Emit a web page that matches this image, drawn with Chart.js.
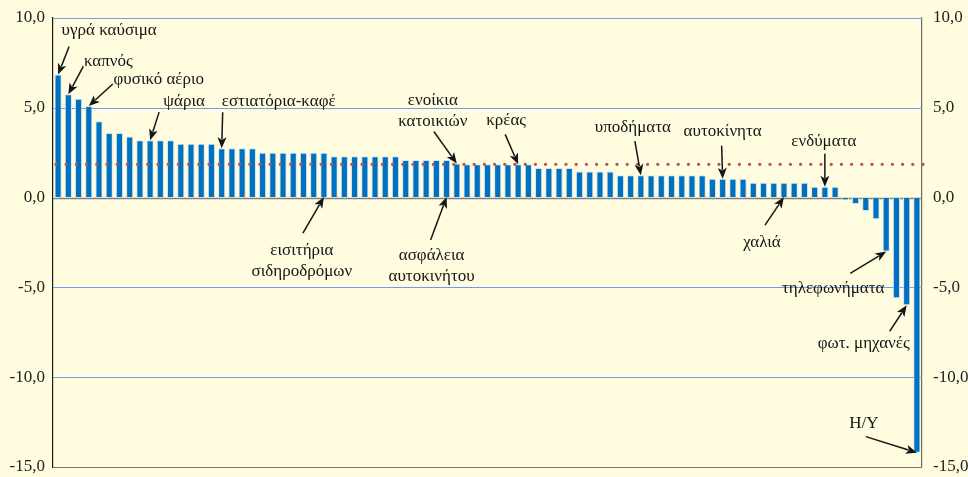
<!DOCTYPE html>
<html lang="el">
<head>
<meta charset="utf-8">
<title>Μεταβολή τιμών</title>
<script src="https://cdn.jsdelivr.net/npm/chart.js@4.4.1/dist/chart.umd.min.js"></script>
<style>
  html, body { margin: 0; padding: 0; background: #fffcdf; }
  #wrap { width: 968px; height: 477px; position: relative; }
</style>
</head>
<body>
<div id="wrap"><canvas id="priceChart"></canvas></div>
<script>
// Bar values, sorted from largest to smallest change (%)
const values = [
  6.85, 5.75, 5.5, 5.1, 4.25, 3.6, 3.6, 3.4, 3.2, 3.2,
  3.2, 3.2, 3.0, 3.0, 3.0, 3.0, 2.75, 2.75, 2.75, 2.75,
  2.5, 2.5, 2.5, 2.5, 2.5, 2.5, 2.5, 2.3, 2.3, 2.3,
  2.3, 2.3, 2.3, 2.3, 2.1, 2.1, 2.1, 2.1, 2.1, 1.9,
  1.85, 1.85, 1.85, 1.85, 1.85, 1.85, 1.85, 1.65, 1.65, 1.65,
  1.65, 1.45, 1.45, 1.45, 1.45, 1.25, 1.25, 1.25, 1.25, 1.25,
  1.25, 1.25, 1.25, 1.25, 1.05, 1.05, 1.05, 1.05, 0.82, 0.82,
  0.82, 0.82, 0.82, 0.82, 0.6, 0.6, 0.6, -0.15, -0.35, -0.75,
  -1.2, -3.0, -5.6, -6.0, -14.2
];

// Average line (red dots)
const average = 1.85;

// Named items and the bar each one points to
const namedItems = [
  "υγρά καύσιμα", "καπνός", "φυσικό αέριο", "ψάρια", "εστιατόρια-καφέ",
  "ενοίκια\nκατοικιών", "κρέας", "υποδήματα", "αυτοκίνητα", "ενδύματα",
  "εισιτήρια\nσιδηροδρόμων", "ασφάλεια\nαυτοκινήτου", "χαλιά",
  "τηλεφωνήματα", "φωτ. μηχανές", "H/Y"
];
const namedIndex = [0, 1, 3, 9, 16, 39, 45, 57, 65, 75, 26, 38, 71, 81, 83, 84];

// Axis ticks
const tickValues = [10, 5, 0, -5, -10, -15];

const categories = values.map((v, i) => String(i + 1));

// Callout layout: which end of the bar, arrow tail and text offset from the tip (px)
const calloutLayout = [
  { end: "top", tail: [11, -28], text: [51, -44] },
  { end: "top", tail: [15, -28], text: [40, -33] },
  { end: "top", tail: [24, -22], text: [70, -26] },
  { end: "top", tail: [9, -28], text: [34, -39] },
  { end: "top", tail: [1, -36], text: [57, -47] },
  { end: "top", tail: [-23, -32], text: [-24, -63] },
  { end: "top", tail: [-13, -30], text: [-12, -44] },
  { end: "top", tail: [-6, -34], text: [-8, -48] },
  { end: "top", tail: [-1, -33], text: [0, -47] },
  { end: "top", tail: [0, -33], text: [-1, -45] },
  { end: "base", tail: [-21, 36], text: [-22, 53] },
  { end: "base", tail: [-16, 43], text: [-15, 58] },
  { end: "base", tail: [-19, 28], text: [-22, 45] },
  { end: "top", tail: [-36, 22], text: [-53, 37] },
  { end: "top", tail: [-17, 26], text: [-43, 38] },
  { end: "top", tail: [-51, -16], text: [-53, -29] },
];

document.addEventListener("DOMContentLoaded", function () {
  const ctx = document.getElementById("priceChart").getContext("2d");
  const serif = '"Liberation Serif", "DejaVu Serif", serif';

  function formatTick(v) {
    return v.toFixed(1).replace(".", ",");
  }

  function drawArrow(c, x1, y1, x2, y2) {
    const ang = Math.atan2(y2 - y1, x2 - x1);
    const head = 11;
    const half = 4.5;
    c.beginPath();
    c.moveTo(x1, y1);
    c.lineTo(x2 - Math.cos(ang) * head * 0.8, y2 - Math.sin(ang) * head * 0.8);
    c.stroke();
    c.beginPath();
    c.moveTo(x2, y2);
    c.lineTo(
      x2 - Math.cos(ang) * head + Math.sin(ang) * half,
      y2 - Math.sin(ang) * head - Math.cos(ang) * half
    );
    c.lineTo(
      x2 - Math.cos(ang) * head * 0.75,
      y2 - Math.sin(ang) * head * 0.75
    );
    c.lineTo(
      x2 - Math.cos(ang) * head - Math.sin(ang) * half,
      y2 - Math.sin(ang) * head + Math.cos(ang) * half
    );
    c.closePath();
    c.fill();
  }

  // Horizontal lines at the tick values: blue grid, grey zero line, grey bottom
  const gridLines = {
    id: "gridLines",
    beforeDatasetsDraw(chart) {
      const c = chart.ctx;
      const area = chart.chartArea;
      const scale = chart.scales.y;
      c.save();
      tickValues.forEach((v) => {
        const y = Math.round(scale.getPixelForValue(v)) + 0.5;
        if (v === 0) {
          c.strokeStyle = "#808080";
          c.lineWidth = 1.5;
        } else if (v === -15) {
          c.strokeStyle = "#777777";
          c.lineWidth = 1.2;
        } else {
          c.strokeStyle = "#6e9cf0";
          c.lineWidth = 1;
        }
        c.beginPath();
        c.moveTo(area.left, y);
        c.lineTo(area.right, y);
        c.stroke();
      });
      c.restore();
    },
  };

  // Red dotted average line across the plot
  const averageLine = {
    id: "averageLine",
    afterDatasetsDraw(chart) {
      const c = chart.ctx;
      const area = chart.chartArea;
      const y = chart.scales.y.getPixelForValue(average);
      c.save();
      c.strokeStyle = "#c0504d";
      c.lineWidth = 3.4;
      c.lineCap = "round";
      c.setLineDash([0, 10.2]);
      c.beginPath();
      c.moveTo(area.left + 3, y);
      c.lineTo(area.right + 2, y);
      c.stroke();
      c.restore();
    },
  };

  // Arrows and item names
  const callouts = {
    id: "callouts",
    afterDatasetsDraw(chart) {
      const c = chart.ctx;
      const bars = chart.getDatasetMeta(0).data;
      c.save();
      c.strokeStyle = "#151515";
      c.fillStyle = "#151515";
      c.lineWidth = 1.5;
      c.font = "17px " + serif;
      c.textAlign = "center";
      c.textBaseline = "middle";
      namedItems.forEach((name, i) => {
        const bar = bars[namedIndex[i]];
        const lay = calloutLayout[i];
        const tipX = bar.x;
        const tipY = lay.end === "base" ? bar.base : bar.y;
        drawArrow(c, tipX + lay.tail[0], tipY + lay.tail[1], tipX, tipY);
        name.split("\n").forEach((line, k) => {
          c.fillText(line, tipX + lay.text[0], tipY + lay.text[1] + k * 21);
        });
      });
      c.restore();
    },
  };

  const tickOptions = {
    stepSize: 5,
    color: "#222222",
    font: { family: serif, size: 17 },
    callback: (v) => (tickValues.includes(v) ? formatTick(v) : ""),
  };

  // Fixed axis widths, and no extra vertical room for the end labels
  function fitAxis(width) {
    return (scale) => {
      scale.width = width;
      scale.paddingTop = 0;
      scale.paddingBottom = 0;
    };
  }

  new Chart(ctx, {
    type: "bar",
    data: {
      labels: categories,
      datasets: [
        {
          data: values,
          backgroundColor: "#0070c0",
          borderColor: "#cfe2f1",
          borderWidth: 1,
          barPercentage: 0.7,
          categoryPercentage: 1,
        },
      ],
    },
    options: {
      responsive: true,
      maintainAspectRatio: false,
      animation: false,
      layout: { padding: { top: 18, bottom: 10, left: 0, right: 0 } },
      plugins: {
        legend: { display: false },
        tooltip: { enabled: false },
      },
      scales: {
        x: { display: false, offset: true },
        y: {
          min: -15,
          max: 10,
          ticks: { ...tickOptions, padding: 8 },
          border: { display: true, color: "#1a1a1a", width: 1.2 },
          grid: { drawOnChartArea: false, drawTicks: false },
          afterFit: fitAxis(53),
        },
        y2: {
          position: "right",
          min: -15,
          max: 10,
          ticks: { ...tickOptions, padding: 11 },
          border: { display: true, color: "#6b6b6b", width: 1.2 },
          grid: { display: false, drawTicks: false },
          afterFit: fitAxis(46),
        },
      },
    },
    plugins: [gridLines, averageLine, callouts],
  });
});
</script>
</body>
</html>
